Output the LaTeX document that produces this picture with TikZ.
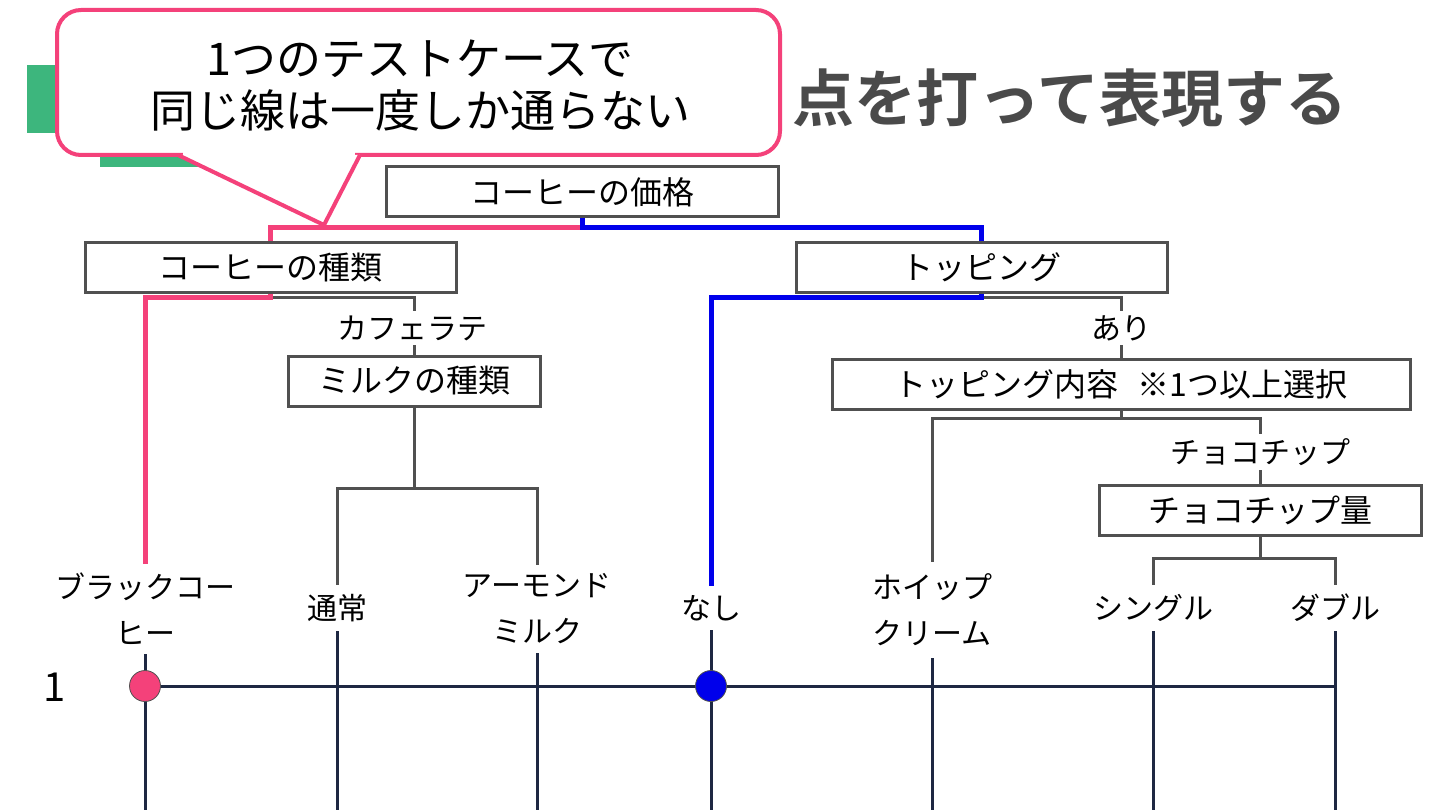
\documentclass[tikz,border=0pt]{standalone}
\usepackage{fontspec}
\usetikzlibrary{backgrounds}
\newfontfamily\jp{Noto Sans CJK JP}
\newfontfamily\jpbold{Noto Sans CJK JP Bold}
\definecolor{cpink}{RGB}{244,65,122}
\definecolor{cblue}{RGB}{0,0,235}
\definecolor{cnavy}{RGB}{30,40,66}
\definecolor{cgray}{RGB}{80,80,80}
\definecolor{cgreen}{RGB}{61,182,125}
\definecolor{ctitle}{RGB}{74,74,74}
\pgfdeclarelayer{foreground}
\pgfsetlayers{background,main,foreground}
\begin{document}
\begin{tikzpicture}[x=1pt,y=-1pt,
  box/.style={draw=cgray,line width=3pt,fill=white,minimum height=50pt,inner sep=0pt,font=\jp\fontsize{32}{36}\selectfont},
  lbl/.style={fill=white,inner xsep=2pt,inner ysep=9pt,align=center,font=\jp\fontsize{30}{46}\selectfont},
  midlbl/.style={lbl,inner ysep=4pt},
  gline/.style={draw=cgray,line width=3pt},
  pline/.style={draw=cpink,line width=5pt},
  bline/.style={draw=cblue,line width=5pt},
  nline/.style={draw=cnavy,line width=3pt},
  dot/.style={circle,draw=cgray,line width=0.8pt,minimum size=31pt,inner sep=0pt},
  callout/.style={draw=cpink,line width=4pt},
]
\useasboundingbox (0,0) rectangle (1440,810);

% title (partly hidden by the callout)
\fill[cgreen] (27,65) rectangle (110,133);
\fill[cgreen] (100,157) rectangle (260,167);
\node[anchor=west,inner sep=0pt,text=ctitle,font=\jpbold\fontsize{62}{70}\selectfont] (title) at (792,98) {点を打って表現する};

% boxes
\node[box,minimum width=392pt] (price) at (582,192) {コーヒーの価格};
\node[box,minimum width=371pt] (kind) at (270.5,267.5) {コーヒーの種類};
\node[box,minimum width=371pt] (top) at (981.5,267.5) {トッピング};
\node[box,minimum width=252pt] (milk) at (414,381) {ミルクの種類};
\node[box,minimum width=578pt] (content) at (1121,384.5) {トッピング内容\hspace{0.6em}※1つ以上選択};
\node[box,minimum width=322pt] (chocoamt) at (1260,510) {チョコチップ量};

% branch labels
\node[midlbl] (cafe) at (412,328) {カフェラテ};
\node[midlbl] (ari) at (1121,328) {あり};
\node[midlbl] (chocolbl) at (1260,452) {チョコチップ};

% leaf labels
\node[lbl] (black) at (145,609) {ブラックコー\\ヒー};
\node[lbl] (normal) at (337,608) {通常};
\node[lbl] (almond) at (537,609) {アーモンド\\ミルク};
\node[lbl] (nashi) at (711,608) {なし};
\node[lbl,inner ysep=12pt] (whip) at (932,610) {ホイップ\\クリーム};
\node[lbl] (single) at (1153,608) {シングル};
\node[lbl] (double) at (1335,608) {ダブル};

\node[font=\jp\fontsize{40}{44}\selectfont,inner sep=0pt] (one) at (55,687) {1};

% dots
\node[dot,fill=cpink] (dot1) at (145,686) {};
\node[dot,fill=cblue] (dot2) at (711,686) {};

% coordinates
\coordinate (pricebr) at (582,228);
\coordinate (kindbr) at (270.5,298);
\coordinate (topbr) at (981.5,298);
\coordinate (milkbr) at (414,488);
\coordinate (contentbr) at (1121,418);
\coordinate (chocobr) at (1260,558);
\coordinate (rowend) at (1337,686);
\coordinate (e1) at (145,810);
\coordinate (e2) at (337,810);
\coordinate (e3) at (537,810);
\coordinate (e4) at (711,810);
\coordinate (e5) at (932,810);
\coordinate (e6) at (1153,810);
\coordinate (e7) at (1335,810);

\begin{pgfonlayer}{background}
  \fill[white] (0,0) rectangle (1440,810);
  % grey tree lines
  \draw[gline] (kindbr) -| (milk.north);
  \draw[gline] (topbr) -| (content.north);
  \draw[gline] (milk.south) -- (milkbr) -| (normal.north);
  \draw[gline] (milkbr) -| (almond.north);
  \draw[gline] (content.south) -- (contentbr) -| (whip.north);
  \draw[gline] (contentbr) -| (chocoamt.north);
  \draw[gline] (chocoamt.south) -- (chocobr) -| (single.north);
  \draw[gline] (chocobr) -| (double.north);
  % highlighted path
  \draw[pline] (kind.north) |- (pricebr);
  \draw[pline] (kind.south) -- (kindbr) -| (black.north);
  \draw[bline] (price.south) -- (pricebr) -| (top.north);
  \draw[bline] (top.south) -- (topbr) -| (nashi.north);
  % grid
  \draw[nline] (black.south) -- (e1);
  \draw[nline] (normal.south) -- (e2);
  \draw[nline] (almond.south) -- (e3);
  \draw[nline] (nashi.south) -- (e4);
  \draw[nline] (whip.south) -- (e5);
  \draw[nline] (single.south) -- (e6);
  \draw[nline] (double.south) -- (e7);
  \draw[nline] (dot1.center) -- (rowend);
\end{pgfonlayer}

% callout
\begin{pgfonlayer}{foreground}
  \draw[callout,fill=white,rounded corners=24pt] (57,10) rectangle (780,155);
  \fill[white] (183,152.5) rectangle (355,157.5);
  \fill[white] (178,155) -- (324,225) -- (360,155) -- cycle;
  \draw[callout] (178,155) -- (324,225) -- (360,155);
  \node[align=center,font=\jp\fontsize{45}{52}\selectfont] (msg) at (420,86) {1つのテストケースで\\同じ線は一度しか通らない};
\end{pgfonlayer}
\end{tikzpicture}
\end{document}
